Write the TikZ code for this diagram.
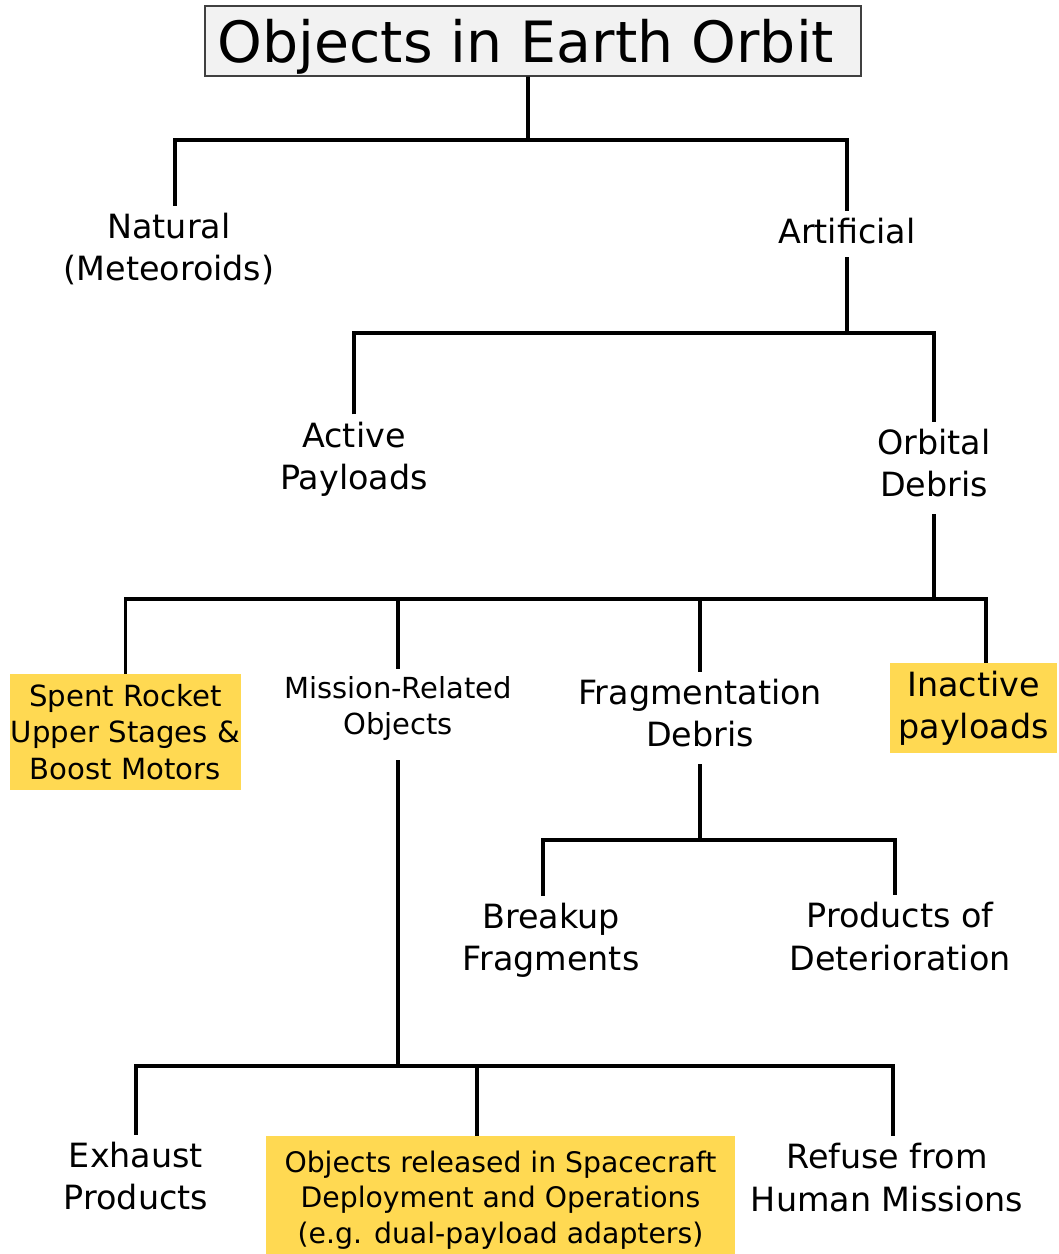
\documentclass[tikz,border=0pt]{standalone}
\usepackage{fontspec}
\setmainfont{DejaVu Sans}
\definecolor{boxyellow}{RGB}{255,217,82}
\definecolor{titlegray}{RGB}{242,242,242}

\begin{document}
\begin{tikzpicture}[x=0.02cm,y=-0.02cm,
  txt/.style={align=center,inner sep=4pt,font=\fontsize{19}{24}\selectfont},
  smalltxt/.style={align=center,inner sep=4pt,font=\fontsize{16.5}{21}\selectfont},
  hibox/.style={fill=boxyellow,align=center,inner sep=0pt},
  branch/.style={line width=2.1pt}]
\useasboundingbox (0,0) rectangle (1058,1254);
% top of the tree
\node[draw=black!75,fill=titlegray,line width=0.8pt,minimum width=13.12cm,minimum height=1.4cm,inner sep=0pt,text depth=0pt,font=\fontsize{32.4}{38}\selectfont] (orbit) at (533,41) {Objects in Earth Orbit\hspace*{0.28cm}};
\node[txt] (natural) at (169,249) {Natural\\(Meteoroids)};
\node[txt] (artificial) at (847,231) {Artificial};
\node[txt] (active) at (354,459) {Active\\Payloads};
\node[txt] (debris) at (934,463) {Orbital\\Debris};
% kinds of debris
\node[hibox,minimum width=4.62cm,minimum height=2.32cm,font=\fontsize{16.6}{20.8}\selectfont] (spent) at (125.5,732) {Spent Rocket\\Upper Stages \&\\Boost Motors};
\node[smalltxt] (mission) at (398,708.5) {Mission-Related\\Objects};
\node[txt] (frag) at (700,713) {Fragmentation\\Debris};
\node[hibox,minimum width=3.34cm,minimum height=1.8cm,font=\fontsize{19}{24}\selectfont] (inactive) at (973.5,708) {Inactive\\payloads};
\node[txt] (breakup) at (551,940.5) {Breakup\\Fragments};
\node[txt] (deterior) at (900,936.5) {Products of\\Deterioration};
\node[txt] (exhaust) at (136,1176) {Exhaust\\Products};
\node[hibox,minimum width=9.38cm,minimum height=2.56cm,font=\fontsize{16.1}{20.3}\selectfont] (released) at (500.5,1200) {Objects released in Spacecraft\\Deployment and Operations\\(e.g. dual-payload adapters)};
\node[txt] (refuse) at (887,1177.5) {Refuse from\\Human Missions};
% branches
\coordinate (bar1) at (528,140);
\coordinate (bar2) at (848,333);
\coordinate (bar3) at (937,599);
\coordinate (bar4) at (703,840);
\coordinate (bar5) at (395,1066);
\draw[branch] ([xshift=-0.1cm]orbit.south) -- (bar1);
\draw[branch] ([xshift=0.12cm]natural.north) |- (bar1) -| (artificial.north);
\draw[branch,shorten <=0.12cm] (artificial.south) |- (bar2);
\draw[branch] (active.north) |- (bar2) -| (debris.north);
\draw[branch,shorten <=0.2cm] (debris.south) |- (bar3);
\draw[branch] (spent.north) |- (bar3) -| ([xshift=0.25cm]inactive.north);
\draw[branch] (mission.north) |- (bar3);
\draw[branch] (frag.north) |- (bar3);
\draw[branch,shorten <=0.2cm] (frag.south) |- (bar4);
\draw[branch] ([xshift=-0.16cm]breakup.north) |- (bar4) -| ([xshift=-0.1cm]deterior.north);
\draw[branch,shorten <=0.24cm] (mission.south) |- (bar5);
\draw[branch] (exhaust.north) |- (bar5) -| ([xshift=0.12cm]refuse.north);
\draw[branch] ([xshift=-0.47cm]released.north) |- (bar5);
\end{tikzpicture}
\end{document}
